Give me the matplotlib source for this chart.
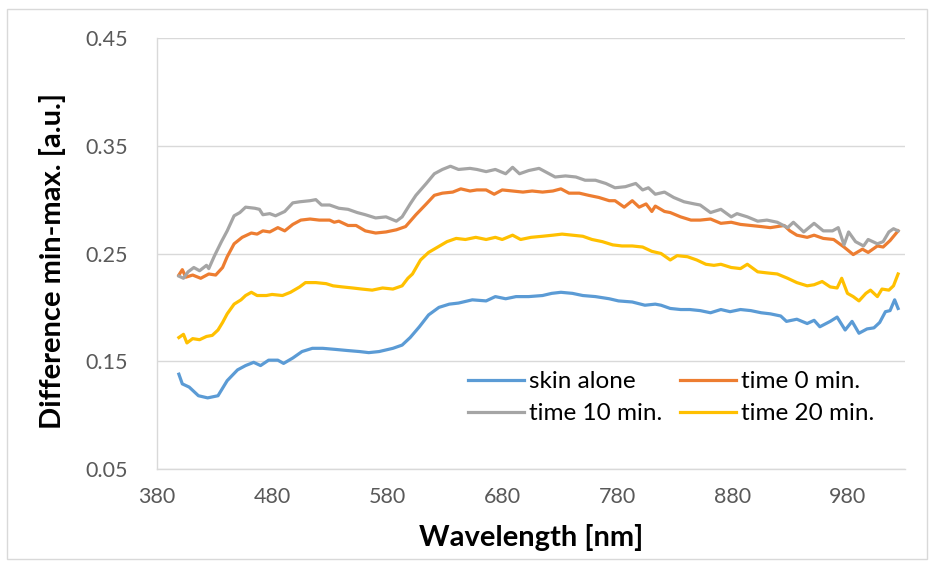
import matplotlib
matplotlib.use("Agg")
import matplotlib.pyplot as plt
from matplotlib.patches import Rectangle

# ---------------- data ----------------
wl_skin = [399, 402, 408, 416, 424, 433, 441, 450, 457, 464, 470, 477, 485, 490, 498,
           506, 515, 524, 535, 545, 556, 564, 573, 585, 593, 600, 608, 616, 625, 634,
           642, 654, 666, 674, 683, 692, 703, 715, 723, 731, 741, 750, 761, 773, 781,
           793, 804, 813, 818, 826, 835, 843, 852, 861, 870, 878, 887, 896, 905, 913,
           922, 927, 936, 945, 951, 956, 965, 971, 978, 984, 990, 997, 1003, 1008, 1013,
           1017, 1021, 1024]
skin_alone = [0.138, 0.129, 0.126, 0.118, 0.116, 0.118, 0.132, 0.142, 0.146, 0.149, 0.146, 0.151, 0.151, 0.148, 0.153,
              0.159, 0.162, 0.162, 0.161, 0.160, 0.159, 0.158, 0.159, 0.162, 0.165, 0.172, 0.182, 0.193, 0.200, 0.203,
              0.204, 0.207, 0.206, 0.210, 0.208, 0.210, 0.210, 0.211, 0.213, 0.214, 0.213, 0.211, 0.210, 0.208, 0.206,
              0.205, 0.202, 0.203, 0.202, 0.199, 0.198, 0.198, 0.197, 0.195, 0.198, 0.196, 0.198, 0.197, 0.195, 0.194,
              0.192, 0.187, 0.189, 0.185, 0.188, 0.182, 0.187, 0.191, 0.179, 0.187, 0.176, 0.180, 0.181, 0.186, 0.196,
              0.197, 0.207, 0.199]

wl_t0 = [399, 402, 405, 411, 418, 425, 431, 437, 441, 447, 454, 462, 467, 472, 478,
         485, 491, 498, 505, 513, 521, 530, 534, 538, 546, 553, 561, 570, 579, 588,
         596, 605, 614, 621, 628, 637, 644, 652, 658, 666, 673, 680, 689, 698, 706,
         715, 724, 731, 738, 747, 755, 764, 773, 778, 786, 793, 799, 805, 810, 813,
         821, 826, 835, 844, 852, 861, 870, 879, 887, 896, 905, 913, 919, 925, 930,
         936, 945, 951, 959, 968, 977, 985, 993, 998, 1006, 1011, 1017, 1024]
time_0 = [0.230, 0.235, 0.228, 0.230, 0.227, 0.231, 0.230, 0.237, 0.247, 0.259, 0.265, 0.269, 0.268, 0.271, 0.270,
          0.274, 0.271, 0.277, 0.281, 0.282, 0.281, 0.281, 0.279, 0.280, 0.276, 0.276, 0.271, 0.269, 0.270, 0.272,
          0.275, 0.286, 0.296, 0.304, 0.306, 0.307, 0.310, 0.308, 0.309, 0.309, 0.305, 0.309, 0.308, 0.307, 0.308,
          0.307, 0.308, 0.310, 0.306, 0.306, 0.304, 0.302, 0.299, 0.299, 0.293, 0.299, 0.293, 0.296, 0.289, 0.294,
          0.289, 0.288, 0.284, 0.281, 0.281, 0.282, 0.278, 0.279, 0.277, 0.276, 0.275, 0.274, 0.275, 0.276, 0.271,
          0.267, 0.265, 0.267, 0.264, 0.263, 0.256, 0.249, 0.254, 0.251, 0.257, 0.256, 0.262, 0.271]

wl_t10 = [399, 403, 407, 412, 417, 423, 425, 430, 436, 441, 447, 452, 457, 465, 469,
          472, 478, 483, 491, 498, 504, 513, 518, 523, 530, 538, 546, 554, 561, 570,
          579, 588, 593, 600, 605, 614, 621, 628, 635, 642, 652, 658, 666, 674, 683,
          689, 695, 703, 712, 719, 726, 735, 744, 752, 761, 770, 778, 787, 796, 802,
          807, 813, 821, 829, 838, 847, 852, 861, 870, 879, 884, 893, 902, 910, 919,
          928, 933, 942, 951, 959, 967, 972, 977, 981, 987, 994, 998, 1006, 1011, 1016,
          1020, 1024]
time_10 = [0.229, 0.227, 0.233, 0.237, 0.234, 0.239, 0.236, 0.248, 0.261, 0.271, 0.285, 0.288, 0.293, 0.292, 0.291,
           0.286, 0.287, 0.285, 0.289, 0.297, 0.298, 0.299, 0.300, 0.295, 0.295, 0.292, 0.291, 0.288, 0.286, 0.283,
           0.284, 0.280, 0.284, 0.296, 0.304, 0.315, 0.324, 0.328, 0.331, 0.328, 0.329, 0.328, 0.326, 0.328, 0.324,
           0.330, 0.324, 0.327, 0.329, 0.325, 0.321, 0.322, 0.321, 0.318, 0.318, 0.315, 0.311, 0.312, 0.315, 0.309,
           0.311, 0.305, 0.307, 0.302, 0.298, 0.296, 0.295, 0.288, 0.291, 0.284, 0.287, 0.284, 0.280, 0.281, 0.279,
           0.274, 0.279, 0.270, 0.278, 0.271, 0.271, 0.274, 0.258, 0.270, 0.261, 0.257, 0.263, 0.259, 0.261, 0.270,
           0.273, 0.271]

wl_t20 = [399, 403, 406, 411, 417, 423, 428, 433, 437, 441, 447, 453, 457, 462, 467,
          475, 480, 489, 496, 504, 509, 518, 527, 533, 541, 550, 558, 567, 576, 585,
          593, 598, 602, 609, 616, 624, 632, 640, 648, 657, 666, 674, 680, 689, 696,
          705, 715, 724, 732, 741, 750, 758, 767, 776, 784, 793, 802, 810, 818, 826,
          832, 841, 849, 857, 864, 870, 879, 887, 893, 902, 910, 919, 928, 936, 945,
          951, 958, 965, 971, 975, 980, 985, 990, 996, 1000, 1006, 1010, 1016, 1020, 1024]
time_20 = [0.172, 0.175, 0.167, 0.171, 0.170, 0.173, 0.174, 0.179, 0.186, 0.194, 0.203, 0.207, 0.211, 0.214, 0.211,
           0.211, 0.212, 0.211, 0.214, 0.219, 0.223, 0.223, 0.222, 0.220, 0.219, 0.218, 0.217, 0.216, 0.218, 0.217,
           0.220, 0.227, 0.231, 0.244, 0.251, 0.256, 0.261, 0.264, 0.263, 0.265, 0.263, 0.265, 0.263, 0.267, 0.263,
           0.265, 0.266, 0.267, 0.268, 0.267, 0.266, 0.263, 0.261, 0.258, 0.257, 0.257, 0.256, 0.252, 0.250, 0.244,
           0.248, 0.247, 0.244, 0.240, 0.239, 0.240, 0.237, 0.236, 0.240, 0.233, 0.232, 0.231, 0.227, 0.223, 0.220,
           0.221, 0.224, 0.219, 0.218, 0.227, 0.213, 0.210, 0.206, 0.213, 0.216, 0.210, 0.217, 0.216, 0.220, 0.231]

series_labels = ["skin alone", "time 0 min.", "time 10 min.", "time 20 min."]
series_colors = ["#5B9BD5", "#ED7D31", "#A5A5A5", "#FFC000"]
x_ticks = [380, 480, 580, 680, 780, 880, 980]
y_ticks = [0.05, 0.15, 0.25, 0.35, 0.45]
x_title = "Wavelength [nm]"
y_title = "Difference min-max. [a.u.]"

# ---------------- figure ----------------
plt.rcParams['font.family'] = ['Lato', 'DejaVu Sans']
fig = plt.figure(figsize=(9.34, 5.66), dpi=100)
ax = fig.add_axes([157 / 934, 1 - 469 / 566, (905 - 157) / 934, (469 - 38) / 566])

data = [(wl_skin, skin_alone), (wl_t0, time_0), (wl_t10, time_10), (wl_t20, time_20)]
handles = []
for (x, y), lab, col in zip(data, series_labels, series_colors):
    h, = ax.plot(x, y, color=col, lw=2.3, label=lab, solid_joinstyle='round')
    handles.append(h)

ax.set_xlim(380, 1030)
ax.set_ylim(0.05, 0.45)
ax.set_xticks(x_ticks)
ax.set_xticklabels([str(v) for v in x_ticks])
ax.set_yticks(y_ticks)
ax.set_yticklabels([f"{v:.2f}" for v in y_ticks])
ax.tick_params(axis='both', length=0, labelsize=15.5, labelcolor='#595959')
ax.tick_params(axis='y', pad=21)
ax.tick_params(axis='x', pad=13)
ax.grid(axis='y', color='#D9D9D9', lw=1)
ax.set_axisbelow(True)
for s in ['top', 'right']:
    ax.spines[s].set_visible(False)
for s in ['left', 'bottom']:
    ax.spines[s].set_color('#D9D9D9')
    ax.spines[s].set_linewidth(1)

ax.set_xlabel(x_title, fontsize=21, fontweight='bold', color='black', labelpad=12)
ax.set_ylabel(y_title, fontsize=21, fontweight='bold', color='black', labelpad=12)
ax.yaxis.set_label_coords(-0.122, 0.483)

# row-wise legend order (matplotlib fills columns first)
order = [0, 2, 1, 3]
leg = fig.legend([handles[i] for i in order], [series_labels[i] for i in order],
                 loc='upper left', bbox_to_anchor=(468 / 934, 1 - 371 / 566),
                 bbox_transform=fig.transFigure, ncol=2, frameon=False,
                 fontsize=17.5, handlelength=2.3, handletextpad=0.2, columnspacing=0.75,
                 labelspacing=0.47, borderaxespad=0, borderpad=0)

fig.patches.append(Rectangle((0.008, 0.012), 0.984, 0.972, transform=fig.transFigure,
                             fill=False, edgecolor='#D9D9D9', lw=1))

fig.savefig("out.png", dpi=100)
